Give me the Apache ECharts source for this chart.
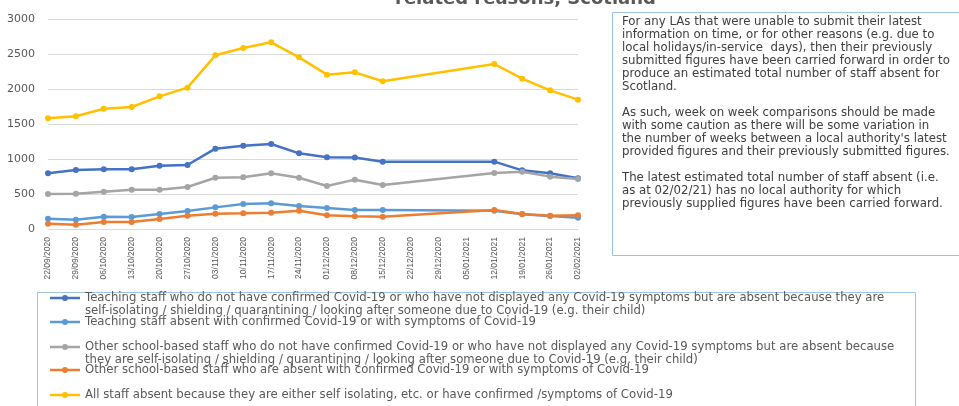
<!DOCTYPE html>
<html><head><meta charset="utf-8">
<script src="https://cdn.jsdelivr.net/npm/echarts@6/dist/echarts.min.js"></script>
<style>html,body{margin:0;padding:0;background:#fff}#c{width:959px;height:406px}</style>
</head><body><div id="c"></div>
<script>
const categories = ['22/09/2020','29/09/2020','06/10/2020','13/10/2020','20/10/2020','27/10/2020','03/11/2020','10/11/2020','17/11/2020','24/11/2020','01/12/2020','08/12/2020','15/12/2020','22/12/2020','29/12/2020','05/01/2021','12/01/2021','19/01/2021','26/01/2021','02/02/2021'];
const teachingNoCovid = [796,843,853,853,905,914,1148,1190,1214,1081,1024,1020,962,null,null,null,962,838,795,724];
const teachingCovid = [148,133,176,171,214,257,309,357,367,329,300,271,271,null,null,null,262,210,186,162];
const otherNoCovid = [500,505,533,562,562,600,733,738,795,733,614,705,629,null,null,null,800,819,748,714];
const otherCovid = [76,62,100,100,143,190,219,224,233,262,195,181,176,null,null,null,271,214,190,195];
const allStaff = [1581,1610,1719,1743,1895,2019,2481,2586,2667,2452,2205,2238,2110,null,null,null,2357,2148,1981,1848];
const yTicks = {min:0, max:3000, interval:500};

const names = [
 'Teaching staff who do not have confirmed Covid-19 or who have not displayed any Covid-19 symptoms but are absent because they are\nself-isolating / shielding / quarantining / looking after someone due to Covid-19 (e.g. their child)',
 'Teaching staff absent with confirmed Covid-19 or with symptoms of Covid-19',
 'Other school-based staff who do not have confirmed Covid-19 or who have not displayed any Covid-19 symptoms but are absent because\nthey are self-isolating / shielding / quarantining / looking after someone due to Covid-19 (e.g. their child)',
 'Other school-based staff who are absent with confirmed Covid-19 or with symptoms of Covid-19',
 'All staff absent because they are either self isolating, etc. or have confirmed /symptoms of Covid-19'
];
const colors = ['#4472C4','#5B9BD5','#A5A5A5','#ED7D31','#FFC000'];
const seriesData = [teachingNoCovid, teachingCovid, otherNoCovid, otherCovid, allStaff];
const noteText = "For any LAs that were unable to submit their latest\ninformation on time, or for other reasons (e.g. due to\nlocal holidays/in-service  days), then their previously\nsubmitted figures have been carried forward in order to\nproduce an estimated total number of staff absent for\nScotland.\n\nAs such, week on week comparisons should be made\nwith some caution as there will be some variation in\nthe number of weeks between a local authority's latest\nprovided figures and their previously submitted figures.\n\nThe latest estimated total number of staff absent (i.e.\nas at 02/02/21) has no local authority for which\npreviously supplied figures have been carried forward.";
const titleText = 'related reasons, Scotland';

const FONT = 'Liberation Sans';
const WIDE = 'DejaVu Sans';
function iconPath(h) {
  return 'path://M0 0 M0 ' + h +
    ' M0 5.3 L12.5 5.3 L12.5 7.7 L0 7.7 Z' +
    ' M17.5 5.3 L30 5.3 L30 7.7 L17.5 7.7 Z' +
    ' M12 6.5 A3 3 0 1 1 18 6.5 A3 3 0 1 1 12 6.5 Z';
}
const legendTops = [291.5, 315.5, 340.5, 363.5, 388.5];
const legends = names.map((n, i) => {
  const two = n.indexOf('\n') >= 0;
  const h = two ? 26 : 13;
  return {
    data: [{name: n, icon: iconPath(h)}],
    left: 50, top: legendTops[i], padding: 0,
    itemWidth: 30, itemHeight: h, itemGap: 3,
    selectedMode: false,
    textStyle: {fontFamily: WIDE, fontSize: 11.7, color: '#595959', lineHeight: 13}
  };
});

const chart = echarts.init(document.getElementById('c'), null, {renderer: 'canvas'});
chart.setOption({
  animation: false,
  color: colors,
  textStyle: {fontFamily: FONT},
  grid: {left: 48, right: 381, top: 19, bottom: 177, containLabel: false},
  xAxis: {
    type: 'category', data: categories, boundaryGap: false,
    axisLine: {lineStyle: {color: '#D9D9D9'}},
    axisTick: {show: false},
    axisLabel: {rotate: 90, fontSize: 8.5, color: '#595959', margin: 8, interval: 0, fontFamily: FONT}
  },
  yAxis: {
    type: 'value', min: yTicks.min, max: yTicks.max, interval: yTicks.interval,
    axisLine: {show: false}, axisTick: {show: false},
    axisLabel: {fontSize: 11, color: '#595959', margin: 13, fontFamily: WIDE, formatter: v => String(v)},
    splitLine: {lineStyle: {color: '#D9D9D9'}}
  },
  legend: legends,
  series: seriesData.map((d, i) => ({
    name: names[i], type: 'line', data: d, connectNulls: true,
    symbol: 'circle', symbolSize: 6, showSymbol: true,
    lineStyle: {width: 2.5, color: colors[i]},
    itemStyle: {color: colors[i]}
  })),
  graphic: [
    {type: 'text', x: 395, y: 8, style: {text: titleText, font: 'bold 18px ' + WIDE, fill: '#595959', verticalAlign: 'bottom'}},
    {type: 'rect', shape: {x: 612.5, y: 12.5, width: 360, height: 243}, style: {fill: '#fff', stroke: '#9DC3E6', lineWidth: 1}},
    {type: 'text', left: 622, top: 15.5, style: {text: noteText, font: '11.75px ' + WIDE, fill: '#404040', lineHeight: 13}},
    {type: 'rect', shape: {x: 37.5, y: 292.5, width: 878, height: 120}, style: {fill: 'none', stroke: '#9DC3E6', lineWidth: 1}}
  ]
});
</script></body></html>
